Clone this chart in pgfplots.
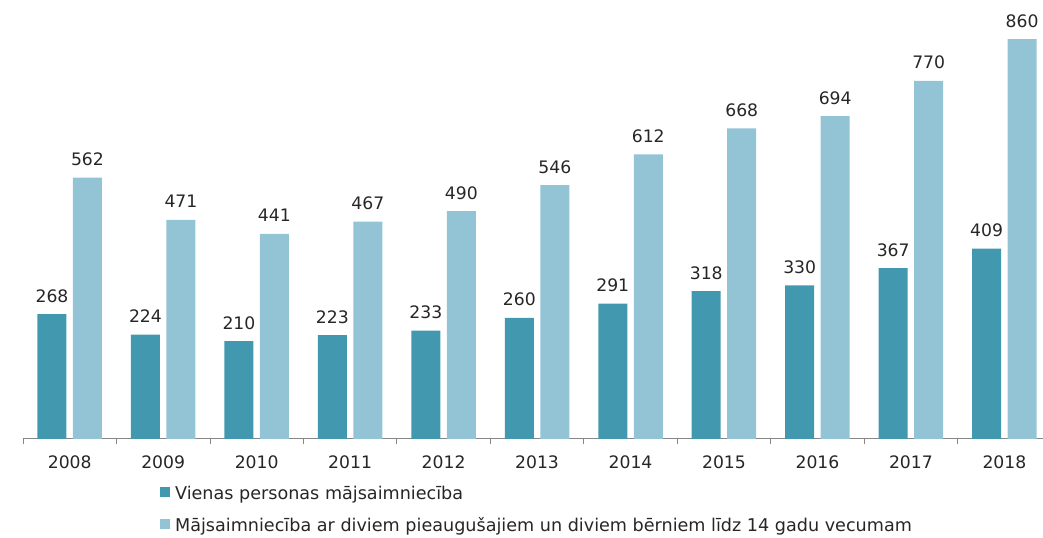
\documentclass[border=0pt]{standalone}
\usepackage{pgfplots}
\pgfplotsset{compat=1.18}
\usepackage{fontspec}
\setmainfont{DejaVu Sans}

\definecolor{darkteal}{HTML}{4198AF}
\definecolor{lightteal}{HTML}{92C4D5}
\definecolor{txt}{HTML}{262626}
\definecolor{axisgray}{HTML}{868686}

\begin{document}
\begin{tikzpicture}
\begin{axis}[
    scale only axis,
    width=1020pt,
    height=439pt,
    ybar=6.5pt,
    bar width=29pt,
    xmin=-0.5, xmax=10.409,
    ymin=0, ymax=944,
    hide y axis,
    axis x line*=bottom,
    x axis line style={-, draw=axisgray, line width=0.8pt},
    xtick={0,...,10},
    xticklabels={2008,2009,2010,2011,2012,2013,2014,2015,2016,2017,2018},
    major tick length=0pt,
    minor xtick={-0.5,0.5,...,9.5},
    minor tick length=5pt,
    tick align=outside,
    minor tick style={axisgray, line width=0.8pt},
    xticklabel style={font=\fontsize{17.2}{20}\selectfont, text=txt, inner sep=0pt, anchor=north, yshift=-17pt},
    /pgf/number format/assume math mode=true,
    nodes near coords,
    every node near coord/.append style={font=\fontsize{17.2}{20}\selectfont, text=txt, anchor=base, inner sep=0pt, yshift=12pt},
    clip=false,
    legend style={at={(axis description cs:0.1343,-0.109)}, anchor=north west,
        draw=none, fill=none, inner sep=0pt, row sep=15pt,
        font=\fontsize{17.6}{20}\selectfont, text=txt,
        nodes={text height=12pt, text depth=4pt, inner sep=0pt}},
    legend cell align=left,
    /tikz/every odd column/.append style={column sep=5pt},
    legend image code/.code={\fill[#1, draw=none] (0pt,-1pt) rectangle (10pt,9pt);},
]
\addplot[fill=darkteal, draw=none] coordinates {
    (0,268)(1,224)(2,210)(3,223)(4,233)(5,260)(6,291)(7,318)(8,330)(9,367)(10,409)
};
\addlegendentry{Vienas personas mājsaimniecība}
\addplot[fill=lightteal, draw=none] coordinates {
    (0,562)(1,471)(2,441)(3,467)(4,490)(5,546)(6,612)(7,668)(8,694)(9,770)(10,860)
};
\addlegendentry{Mājsaimniecība ar diviem pieaugušajiem un diviem bērniem līdz 14 gadu vecumam}
\end{axis}
\path[use as bounding box] (-23pt,-99pt) rectangle (1020pt,439pt);
\end{tikzpicture}
\end{document}
